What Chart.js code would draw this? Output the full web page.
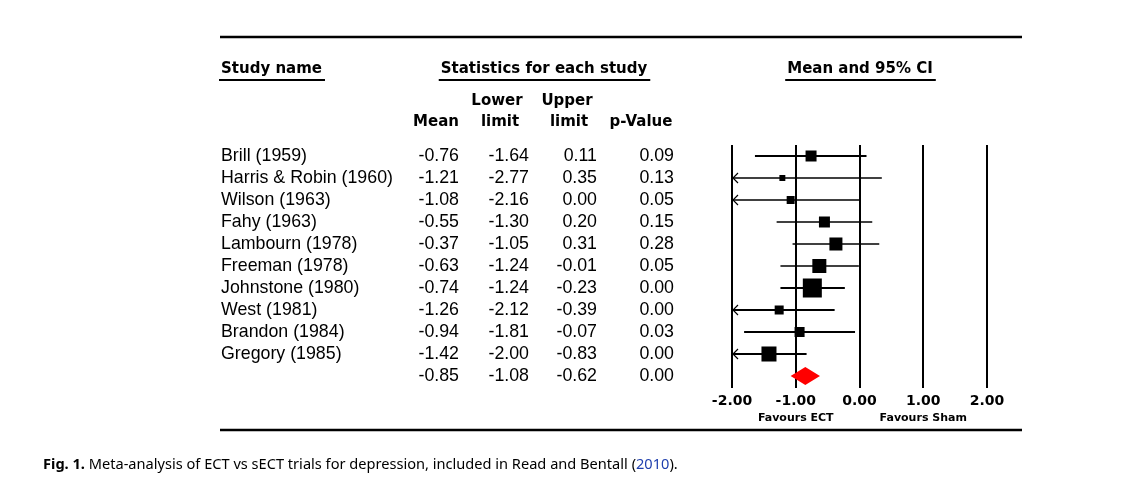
<!doctype html>
<html lang="en">
  <head>
    <meta charset="utf-8">
    <title>Meta-analysis of ECT vs sECT</title>
    <style>
      * {
        margin: 0;
        padding: 0;
      }
      body {
        background: #fff;
      }
      .chartBox {
        width: 1128px;
        height: 491px;
      }
    </style>
  </head>
  <body>
    <div class="chartBox">
      <canvas id="myChart" width="1128" height="491"></canvas>
    </div>

    <script src="https://cdn.jsdelivr.net/npm/chart.js"></script>

    <script>
const studies = [
  'Brill (1959)', 'Harris & Robin (1960)', 'Wilson (1963)', 'Fahy (1963)',
  'Lambourn (1978)', 'Freeman (1978)', 'Johnstone (1980)', 'West (1981)',
  'Brandon (1984)', 'Gregory (1985)'
];
const means   = [-0.76, -1.21, -1.08, -0.55, -0.37, -0.63, -0.74, -1.26, -0.94, -1.42];
const lowers  = [-1.64, -2.77, -2.16, -1.30, -1.05, -1.24, -1.24, -2.12, -1.81, -2.00];
const uppers  = [0.11, 0.35, 0.00, 0.20, 0.31, -0.01, -0.23, -0.39, -0.07, -0.83];
const pValues = [0.09, 0.13, 0.05, 0.15, 0.28, 0.05, 0.00, 0.00, 0.03, 0.00];
// relative weights (%)
const weights = [8.2, 2.4, 4.3, 8.2, 11.5, 13.3, 24.5, 5.5, 6.8, 15.3];

const summaryMean  = -0.85;
const summaryLower = -1.08;
const summaryUpper = -0.62;
const summaryP     = 0.00;

const xTicks = [-2, -1, 0, 1, 2];
const favourLabels = ['Favours ECT', 'Favours Sham'];

// styling
const whiskerWidths = [2, 1.3, 1.3, 1.3, 1.3, 1.3, 2, 2, 2, 2];
const sideScale = 3.84;   // square side in px per sqrt(weight)
const HEAD = 'bold 15px "DejaVu Sans"';
const BODY = '17.8px "Liberation Sans"';

const forestPlugin = {
  id: 'forest',
  beforeDatasetsDraw(chart) {
    const {ctx, chartArea, scales: {x, y}} = chart;
    ctx.save();
    ctx.strokeStyle = '#000';

    // vertical reference lines
    ctx.lineWidth = 2;
    xTicks.forEach(t => {
      const px = Math.round(x.getPixelForValue(t));
      ctx.beginPath();
      ctx.moveTo(px, chartArea.top);
      ctx.lineTo(px, chartArea.bottom + 1);
      ctx.stroke();
    });

    // confidence intervals
    studies.forEach((s, i) => {
      const py = y.getPixelForValue(i);
      const lo = Math.max(lowers[i], x.min);
      const hi = Math.min(uppers[i], x.max);
      const x0 = x.getPixelForValue(lo);
      const x1 = x.getPixelForValue(hi);
      ctx.lineWidth = whiskerWidths[i];
      ctx.beginPath();
      ctx.moveTo(x0, py);
      ctx.lineTo(x1, py);
      ctx.stroke();
      if (lowers[i] <= x.min) {
        ctx.lineWidth = 1.2;
        ctx.beginPath();
        ctx.moveTo(x0 + 6, py - 5);
        ctx.lineTo(x0 + 1, py);
        ctx.lineTo(x0 + 6, py + 5);
        ctx.stroke();
      }
    });
    ctx.restore();
  },
  afterDatasetsDraw(chart) {
    const {ctx, scales: {x, y}} = chart;
    const py = y.getPixelForValue(studies.length);
    ctx.save();
    ctx.fillStyle = '#ff0000';
    ctx.beginPath();
    ctx.moveTo(x.getPixelForValue(summaryLower), py);
    ctx.lineTo(x.getPixelForValue(summaryMean), py - 9);
    ctx.lineTo(x.getPixelForValue(summaryUpper), py);
    ctx.lineTo(x.getPixelForValue(summaryMean), py + 9);
    ctx.closePath();
    ctx.fill();
    ctx.restore();
  },
  afterDraw(chart) {
    const {ctx, scales: {x, y}} = chart;
    ctx.save();
    ctx.fillStyle = '#000';
    ctx.strokeStyle = '#000';

    // horizontal rules
    ctx.lineWidth = 2.5;
    [37, 430].forEach(ry => {
      ctx.beginPath();
      ctx.moveTo(220, ry);
      ctx.lineTo(1022, ry);
      ctx.stroke();
    });

    // section headers with underlines
    ctx.font = HEAD;
    ctx.textBaseline = 'middle';
    const heads = [
      ['Study name', 221, 'left'],
      ['Statistics for each study', 544, 'center'],
      ['Mean and 95% CI', 860, 'center']
    ];
    ctx.lineWidth = 2;
    heads.forEach(([txt, hx, al]) => {
      ctx.textAlign = al;
      ctx.fillText(txt, hx, 69);
      const w = ctx.measureText(txt).width;
      const left = al === 'left' ? hx : hx - w / 2;
      ctx.beginPath();
      ctx.moveTo(left - 2, 80);
      ctx.lineTo(left + w + 3, 80);
      ctx.stroke();
    });

    // column headers
    ctx.textAlign = 'center';
    ctx.fillText('Lower', 497, 101);
    ctx.fillText('Upper', 567, 101);
    ctx.fillText('Mean', 436, 122);
    ctx.fillText('limit', 500, 122);
    ctx.fillText('limit', 569, 122);
    ctx.fillText('p-Value', 641, 122);

    // table rows
    ctx.font = BODY;
    const cols = [459, 529, 597, 674];
    const row = (vals, i, name) => {
      const py = y.getPixelForValue(i);
      if (name) {
        ctx.textAlign = 'left';
        ctx.fillText(name, 221, py);
      }
      ctx.textAlign = 'right';
      vals.forEach((v, c) => ctx.fillText(v.toFixed(2), cols[c], py));
    };
    studies.forEach((s, i) => row([means[i], lowers[i], uppers[i], pValues[i]], i, s));
    row([summaryMean, summaryLower, summaryUpper, summaryP], studies.length, null);

    // x tick labels
    ctx.font = 'bold 14px "DejaVu Sans"';
    ctx.textAlign = 'center';
    xTicks.forEach(t => ctx.fillText(t.toFixed(2), x.getPixelForValue(t), 401));
    ctx.font = 'bold 11px "DejaVu Sans"';
    ctx.fillText(favourLabels[0], x.getPixelForValue(-1), 418);
    ctx.fillText(favourLabels[1], x.getPixelForValue(1), 418);

    // caption
    ctx.textAlign = 'left';
    let cx = 43;
    const part = (txt, font, color) => {
      ctx.font = font;
      ctx.fillStyle = color;
      ctx.fillText(txt, cx, 465);
      cx += ctx.measureText(txt).width;
    };
    const reg = '14.6px "Noto Sans"';
    part('Fig. 1.', 'bold 14.6px "Noto Sans"', '#000');
    part(' Meta-analysis of ECT vs sECT trials for depression, included in Read and Bentall (', reg, '#000');
    part('2010', reg, '#1f3fae');
    part(').', reg, '#000');
    ctx.restore();
  }
};

const config = {
  type: 'scatter',
  data: {
    datasets: [{
      data: means.map((m, i) => ({x: m, y: i})),
      pointStyle: 'rect',
      pointRadius: weights.map(w => sideScale * Math.sqrt(w) * Math.SQRT1_2),
      pointHoverRadius: weights.map(w => sideScale * Math.sqrt(w) * Math.SQRT1_2),
      backgroundColor: '#000',
      borderWidth: 0,
      clip: false
    }]
  },
  options: {
    responsive: false,
    animation: false,
    layout: {
      padding: {left: 732, right: 141, top: 145, bottom: 104}
    },
    scales: {
      x: {type: 'linear', min: -2, max: 2, display: false},
      y: {type: 'linear', min: -0.5, max: 10.5, reverse: true, display: false}
    },
    plugins: {
      legend: {display: false},
      tooltip: {enabled: false}
    }
  },
  plugins: [forestPlugin]
};

const myChart = new Chart(document.getElementById('myChart'), config);
    </script>
  </body>
</html>
